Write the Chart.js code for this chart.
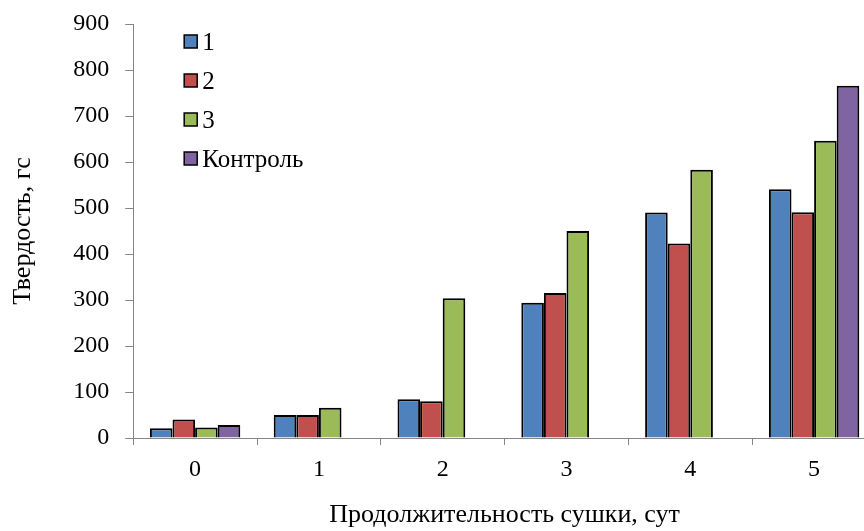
<!DOCTYPE html>
<html>
<head>
<meta charset="utf-8">
<script src="https://cdn.jsdelivr.net/npm/chart.js@4"></script>
<style>
  html, body { margin: 0; padding: 0; background: #fff; overflow: hidden; }
  #wrap { width: 880px; height: 531px; }
</style>
</head>
<body>
<div id="wrap"><canvas id="chart1" width="880" height="531"></canvas></div>
<script>
// days of drying
const days = ["0", "1", "2", "3", "4", "5"];
const seriesNames = ["1", "2", "3", "Контроль"];
const s1 = [21, 50, 84, 294, 490, 541];
const s2 = [40, 50, 80, 315, 423, 491];
const s3 = [23, 66, 304, 450, 583, 646];
const control = [28, null, null, null, null, 766];
const yTicks = [0, 100, 200, 300, 400, 500, 600, 700, 800, 900];

const colors = ["#4F81BD", "#C0504D", "#9BBB59", "#8064A2"];
const fontFamily = "'Liberation Serif', 'Times New Roman', serif";

// legend drawn inside the plot, like the original
const insideLegend = {
    id: "insideLegend",
    afterDraw(chart) {
        const ctx = chart.ctx;
        const x = chart.chartArea.left + 51;
        let y = chart.chartArea.top + 18;
        ctx.save();
        ctx.font = "25px " + fontFamily;
        ctx.textBaseline = "middle";
        chart.data.datasets.forEach(function (ds) {
            ctx.fillStyle = ds.backgroundColor;
            ctx.fillRect(x, y - 7, 13, 13);
            ctx.strokeStyle = "#000";
            ctx.lineWidth = 1.5;
            ctx.strokeRect(x, y - 7, 13, 13);
            ctx.fillStyle = "#000";
            ctx.fillText(ds.label, x + 18, y + 1);
            y += 39;
        });
        ctx.restore();
    }
};

const datasets = [s1, s2, s3, control].map(function (vals, i) {
    return {
        label: seriesNames[i],
        data: vals,
        backgroundColor: colors[i],
        borderColor: "#000",
        borderWidth: 2,
        categoryPercentage: 0.73,
        barPercentage: 1.0
    };
});

new Chart("chart1", {
    type: "bar",
    data: { labels: days, datasets: datasets },
    plugins: [insideLegend],
    options: {
        responsive: false,
        animation: false,
        layout: { padding: { top: 24, right: 4, left: 8, bottom: 0 } },
        plugins: {
            legend: { display: false },
            tooltip: { enabled: false }
        },
        scales: {
            x: {
                grid: { drawOnChartArea: false, tickLength: 7, color: "#868686" },
                border: { color: "#868686", width: 1 },
                ticks: { color: "#000", font: { family: fontFamily, size: 24 }, padding: 10 },
                title: {
                    display: true,
                    text: "Продолжительность сушки, сут",
                    color: "#000",
                    font: { family: fontFamily, size: 26 },
                    padding: { top: 6, bottom: 0 }
                }
            },
            y: {
                min: 0,
                max: 900,
                afterBuildTicks: function (axis) {
                    axis.ticks = yTicks.map(function (v) { return { value: v }; });
                },
                afterFit: function (axis) {
                    axis.paddingTop = 0;
                },
                grid: { drawOnChartArea: false, tickLength: 8, color: "#868686" },
                border: { color: "#868686", width: 1 },
                ticks: { color: "#000", font: { family: fontFamily, size: 24 }, padding: 16 },
                title: {
                    display: true,
                    text: "Твердость, гс",
                    color: "#000",
                    font: { family: fontFamily, size: 26 },
                    padding: { top: 0, bottom: 18 }
                }
            }
        }
    }
});
</script>
</body>
</html>
